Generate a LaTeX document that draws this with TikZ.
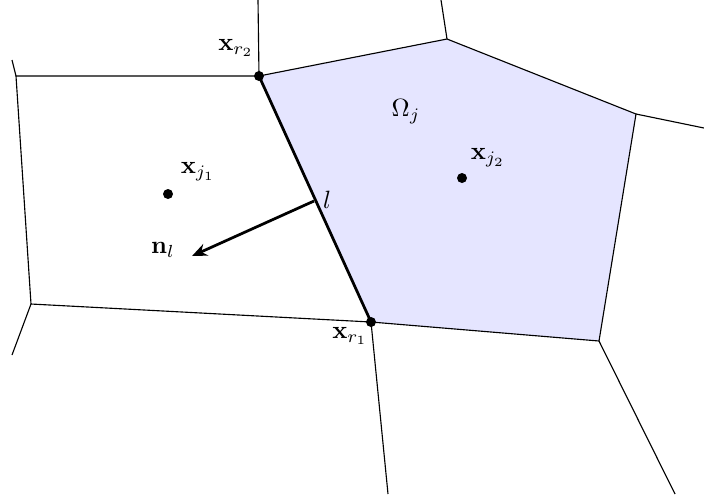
\documentclass[tikz,border=0pt]{standalone}
\usetikzlibrary{arrows.meta}
\begin{document}
\begin{tikzpicture}[x=0.4pt,y=-0.4pt,
  edge/.style={line width=0.45pt},
  dot/.style={circle,fill=black,inner sep=0pt,minimum size=4pt},
  lbl/.style={inner sep=1pt}]
\useasboundingbox (0,0) rectangle (704,496);
% vertices
\coordinate (r2) at (259,76);
\coordinate (r1) at (371,322);
\coordinate (t) at (447,39);
\coordinate (rv) at (636,114);
\coordinate (br) at (599,341);
\coordinate (tl) at (16,76);
\coordinate (bl) at (31,304);
% outer ends
\coordinate (e1) at (12,60);
\coordinate (e2) at (12,355);
\coordinate (e3) at (258,0);
\coordinate (e4) at (441,0);
\coordinate (e5) at (704,128);
\coordinate (e6) at (675,494);
\coordinate (e7) at (388,494);
% cell fill
\fill[blue!10] (r2) -- (t) -- (rv) -- (br) -- (r1) -- cycle;
\draw[edge] (r2) -- (t) -- (rv) -- (br) -- (r1);
\draw[edge] (r2) -- (tl) -- (bl) -- (r1);
\draw[edge] (tl) -- (e1);
\draw[edge] (bl) -- (e2);
\draw[edge] (r2) -- (e3);
\draw[edge] (t) -- (e4);
\draw[edge] (rv) -- (e5);
\draw[edge] (br) -- (e6);
\draw[edge] (r1) -- (e7);
\draw[line width=1.1pt] (r1) -- (r2);
\node[dot] (dr2) at (r2) {};
\node[dot] (dr1) at (r1) {};
\node[dot] (j1) at (168,194) {};
\node[dot] (j2) at (462,178) {};
\node[lbl] (lr2) at (236,48) {$\mathbf{x}_{r_2}$};
\node[lbl] (lr1) at (350,336) {$\mathbf{x}_{r_1}$};
\node[lbl] (lj1) at (198,172) {$\mathbf{x}_{j_1}$};
\node[lbl] (lj2) at (488,158) {$\mathbf{x}_{j_2}$};
\node[lbl] (om) at (406,112) {$\Omega_j$};
\node[lbl] (ll) at (327,200) {$l$};
\node[lbl] (nl) at (163,250) {$\mathbf{n}_l$};
\coordinate (as) at (314,201);
\coordinate (ae) at (192,256);
\draw[line width=1.1pt,-{Stealth[length=6pt,width=5pt]}] (as) -- (ae);
\end{tikzpicture}
\end{document}
